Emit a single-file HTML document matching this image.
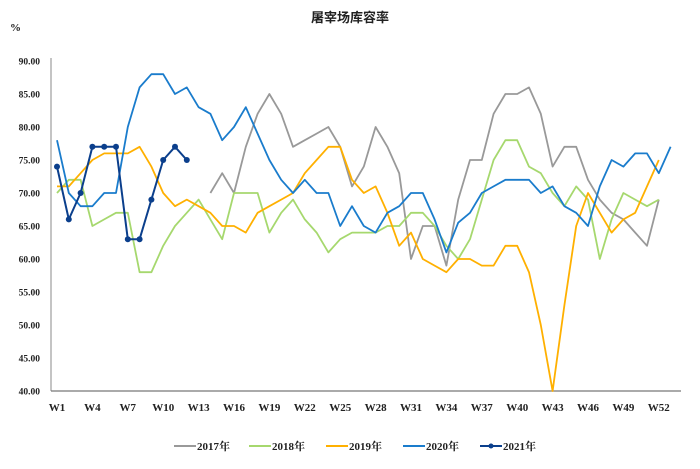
<!DOCTYPE html>
<html><head><meta charset="utf-8"><style>
body{margin:0;background:#fff;}
svg text{font-family:"Liberation Serif","Noto Serif CJK SC",serif;font-weight:bold;fill:#222;}
</style></head><body>
<svg id="chart" width="700" height="464" viewBox="0 0 700 464" xmlns="http://www.w3.org/2000/svg">
<text x="350" y="22" text-anchor="middle" font-size="13" style="font-family:'Liberation Sans','Noto Sans CJK SC',sans-serif">屠宰场库容率</text>
<text x="10" y="31" font-size="11">%</text>
<g id="yaxis"></g>
<g id="xaxis"></g>
<g id="series"></g>
<g id="legend"></g>
</svg>
<script>
const weeks = Array.from({length:53},(_,i)=>'W'+(i+1));
const yTicks = [40,45,50,55,60,65,70,75,80,85,90];
const s2017 = [null,null,null,null,null,null,null,null,null,null,null,null,null,70,73,70,77,82,85,82,77,78,79,80,77,71,74,80,77,73,60,65,65,59,69,75,75,82,85,85,86,82,74,77,77,72,69,67,66,64,62,69];
const s2018 = [70,72,72,65,66,67,67,58,58,62,65,67,69,66,63,70,70,70,64,67,69,66,64,61,63,64,64,64,65,65,67,67,65,62,60,63,69,75,78,78,74,73,70,68,71,69,60,66,70,69,68,69];
const s2019 = [71,71,73,75,76,76,76,77,74,70,68,69,68,67,65,65,64,67,68,69,70,73,75,77,77,72,70,71,67,62,64,60,59,58,60,60,59,59,62,62,58,50,40,53,65,70,67,64,66,67,71,75];
const s2020 = [78,70,68,68,70,70,80,86,88,88,85,86,83,82,78,80,83,79,75,72,70,72,70,70,65,68,65,64,67,68,70,70,66,61,65.5,67,70,71,72,72,72,70,71,68,67,65,71,75,74,76,76,73,77];
const s2021 = [74,66,70,77,77,77,63,63,69,75,77,75];
const seriesNames = ['2017年','2018年','2019年','2020年','2021年'];
const colors = ['#999999','#a6d86e','#ffb000','#1a7ccc','#0b3f8c'];
const X0=57, STEP=11.8, Y0=391, YTOP=61, YMIN=40, YMAX=90;
const xs = i => X0 + i*STEP;
const ys = v => Y0 - (v-YMIN)/(YMAX-YMIN)*(Y0-YTOP);
const NS='http://www.w3.org/2000/svg';
function mk(tag, attrs, parent){const e=document.createElementNS(NS,tag);for(const k in attrs)e.setAttribute(k,attrs[k]);parent.appendChild(e);return e;}
const yg=document.getElementById('yaxis'), xg=document.getElementById('xaxis'), sg=document.getElementById('series'), lg=document.getElementById('legend');
yTicks.forEach(t=>{const e=mk('text',{x:40,y:ys(t)+3.5,'text-anchor':'end','font-size':'9.5'},yg);e.textContent=t.toFixed(2);

});
const al=mk('line',{x1:51,y1:YTOP-3,x2:51,y2:Y0,stroke:'#888','stroke-width':1},yg);


const bl=mk('line',{x1:51,y1:Y0,x2:681,y2:Y0,stroke:'#777','stroke-width':1.2},xg);


weeks.forEach((w,i)=>{if(i%3===0){const e=mk('text',{x:xs(i),y:411,'text-anchor':'middle','font-size':'11'},xg);e.textContent=w;

}});
const all=[s2017,s2018,s2019,s2020,s2021];
all.forEach((arr,k)=>{
  let d='',pen=false;
  arr.forEach((v,i)=>{if(v==null){pen=false;return;}d+=(pen?'L':'M')+xs(i).toFixed(1)+' '+ys(v).toFixed(1)+' ';pen=true;});
  const p=mk('path',{d:d,fill:'none',stroke:colors[k],'stroke-width':k===4?2:1.8,'stroke-linejoin':'round'},sg);
  
  
  if(k===4){arr.forEach((v,i)=>{const c=mk('circle',{cx:xs(i),cy:ys(v),r:3,fill:colors[k]},sg);
  
  });}
});
const lx=[174,249,326,403,480];
seriesNames.forEach((n,k)=>{
  const g=mk('g',{},lg);
  
  
  mk('line',{x1:lx[k],y1:446,x2:lx[k]+22,y2:446,stroke:colors[k],'stroke-width':2},g);
  if(k===4)mk('circle',{cx:lx[k]+11,cy:446,r:2.5,fill:colors[k]},g);
  const t=mk('text',{x:lx[k]+23,y:450,'font-size':'11'},g);t.textContent=n;
});
</script>
</body></html>
